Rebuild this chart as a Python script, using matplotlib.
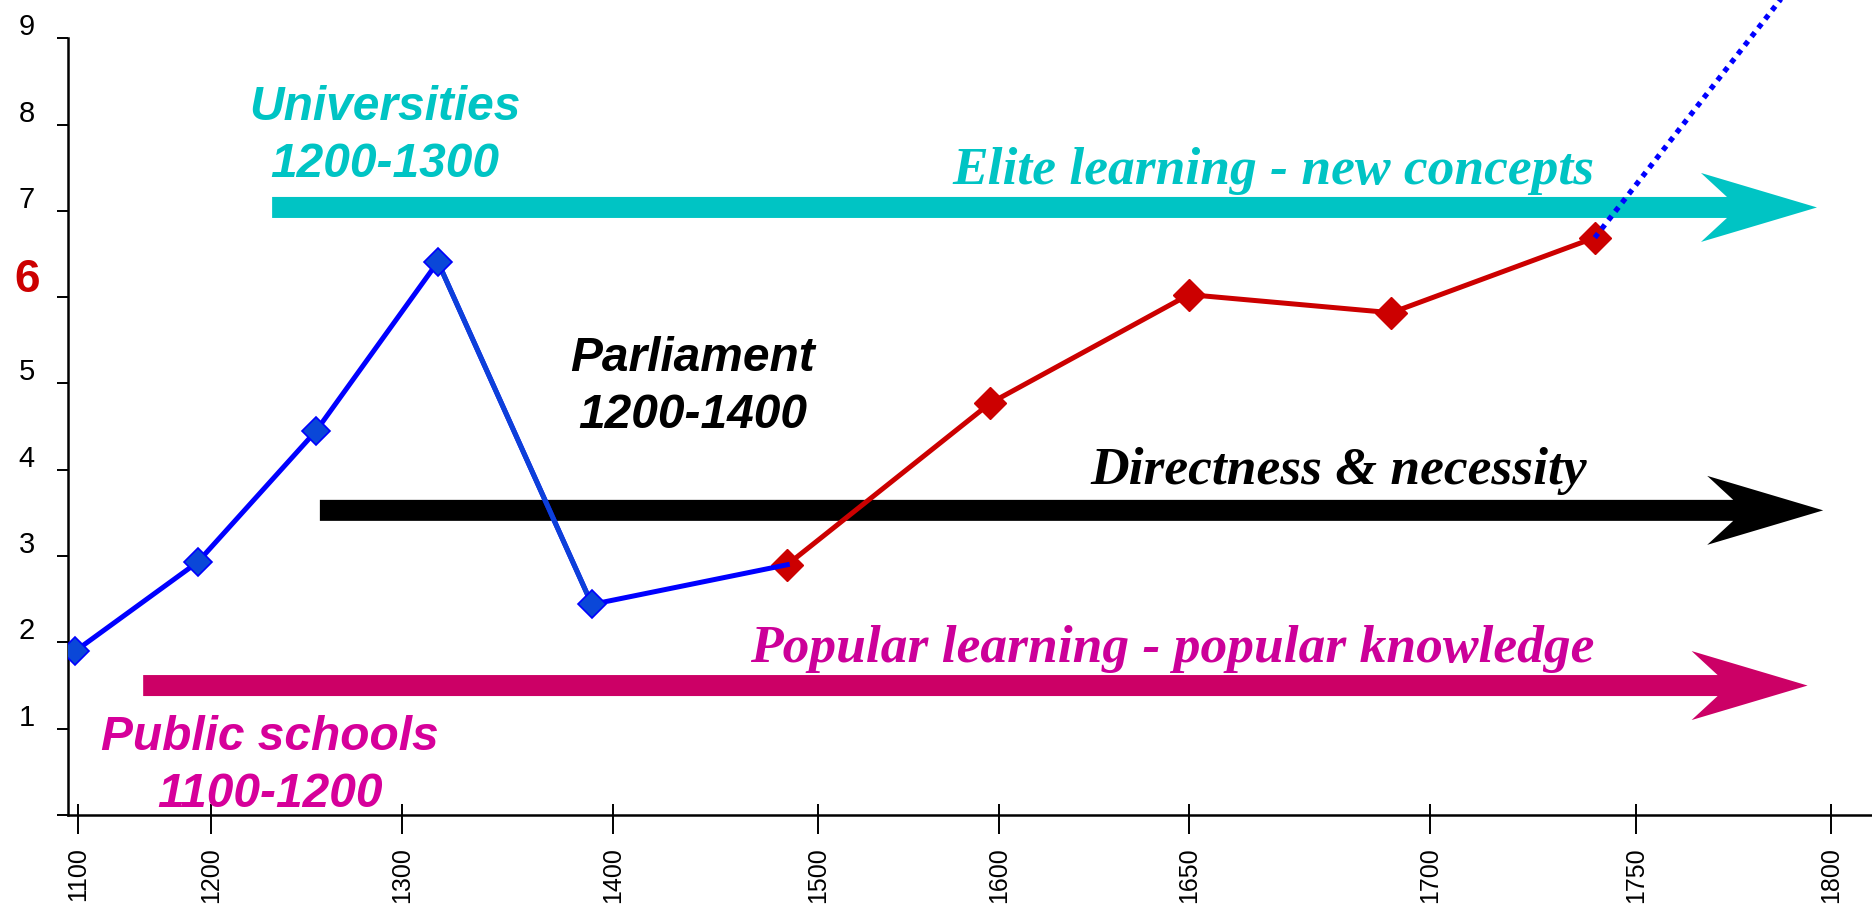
import numpy as np
import matplotlib
matplotlib.use("Agg")
import matplotlib.pyplot as plt
from matplotlib import transforms
from matplotlib.patches import Polygon

# ---------------- data ----------------
tick_years = [1100, 1200, 1300, 1400, 1500, 1600, 1650, 1700, 1750, 1800]
tick_labels = ["1100", "1200", "1300", "1400", "1500", "1600", "1650", "1700", "1750", "1800"]
ytick_values = [0, 1, 2, 3, 4, 5, 6, 7, 8, 9]
ytick_labels = ["", "1", "2", "3", "4", "5", "6", "7", "8", "9"]

blue_years = [1098, 1190, 1255, 1317, 1390, 1485]
blue_values = [1.90, 2.93, 4.45, 6.41, 2.44, 2.90]
red_years = [1485, 1595, 1650, 1692, 1740]
red_values = [2.90, 4.77, 6.03, 5.82, 6.69]
proj_years = [1740, 1800]
proj_values = [6.69, 10.2]

arrow_names = ["Elite", "Directness", "Popular"]
arrow_start = [1232, 1257, 1149]
arrow_end = [1796.4, 1798, 1794]
arrow_level = [7.04, 3.53, 1.50]

# ---------------- layout / style ----------------
W, H, DPI = 1872, 906, 100
# uneven spacing of the category-like year axis (relative positions)
axis_pos = [78, 211, 402, 613, 818, 999, 1189, 1430, 1636, 1831]
ext_years = np.array([900] + tick_years + [2000], float)
ext_pos = np.array([axis_pos[0] - 200 * (axis_pos[1] - axis_pos[0]) / 100.0] + axis_pos +
                   [axis_pos[-1] + 200 * (axis_pos[-1] - axis_pos[-2]) / 50.0], float)


def forward(x):
    return np.interp(np.asarray(x, float), ext_years, ext_pos)


def inverse(p):
    return np.interp(np.asarray(p, float), ext_pos, ext_years)


CYAN = "#00C4C4"
MAGENTA_ARROW = "#CC0066"
MAGENTA_TEXT = "#D6009A"
RED = "#CC0000"
BLUE = "#0000FF"
BLUE2 = "#0D40DA"
MARKER_BLUE = "#0A47D8"
arrow_colors = [CYAN, "#000000", MAGENTA_ARROW]

fig = plt.figure(figsize=(W / DPI, H / DPI), dpi=DPI)
ax_left, ax_bottom = 68, 91
ax = fig.add_axes([ax_left / W, ax_bottom / H, (W - ax_left) / W, (H - ax_bottom) / H])
ax.set_xscale("function", functions=(forward, inverse))
ax.set_xlim(float(inverse(ax_left)), float(inverse(W)))
ax.set_ylim(0, (H - ax_bottom) / 86.3)

for s in ["top", "right"]:
    ax.spines[s].set_visible(False)
ax.spines["left"].set_bounds(0, 9)
ax.spines["left"].set_linewidth(1.8)
ax.spines["bottom"].set_linewidth(1.8)

# x ticks: out part (major) + in part (minor) at the same places
ax.set_xticks(tick_years)
ax.set_xticklabels(tick_labels, rotation=90, fontsize=18, family="Liberation Sans")
ax.set_xticks(tick_years, minor=True)
ax.xaxis.remove_overlapping_locs = False
ax.tick_params(axis="x", which="major", direction="out", length=14, width=1.4, pad=9)
ax.tick_params(axis="x", which="minor", direction="in", length=8, width=1.4)

# y ticks
ax.set_yticks(ytick_values)
ax.set_yticklabels(ytick_labels, fontsize=21, family="Liberation Sans")
ax.tick_params(axis="y", direction="out", length=8, width=1.4, pad=16)
ax.yaxis.set_minor_locator(matplotlib.ticker.NullLocator())
for lab in ax.get_yticklabels():
    if lab.get_text() == "6":
        lab.set_color(RED)
        lab.set_fontsize(33)
        lab.set_fontweight("bold")
        off = transforms.ScaledTranslation(0.05, 0.22, fig.dpi_scale_trans)
    else:
        off = transforms.ScaledTranslation(0, 0.14, fig.dpi_scale_trans)
    lab.set_transform(lab.get_transform() + off)

# ---------------- arrows (behind the lines) ----------------
SHAFT_HALF, HEAD_LEN, HEAD_HALF, NOTCH = 10.5, 116, 34.5, 90
for x0, x1, lvl, col in zip(arrow_start, arrow_end, arrow_level, arrow_colors):
    (sx, sy) = ax.transData.transform((x0, lvl))
    (tx, ty) = ax.transData.transform((x1, lvl))
    verts = [
        (sx, sy - SHAFT_HALF), (tx - NOTCH, ty - SHAFT_HALF), (tx - HEAD_LEN, ty - HEAD_HALF),
        (tx, ty), (tx - HEAD_LEN, ty + HEAD_HALF), (tx - NOTCH, ty + SHAFT_HALF),
        (sx, sy + SHAFT_HALF),
    ]
    ax.add_patch(Polygon(verts, closed=True, facecolor=col, edgecolor="none",
                         transform=transforms.IdentityTransform(), zorder=1))

# ---------------- series ----------------
ax.plot(red_years, red_values, color=RED, lw=3.6, zorder=3,
        marker="D", ms=16.5, mfc=RED, mec=RED, solid_capstyle="butt")
ax.plot(blue_years, blue_values, color=BLUE, lw=3.6, zorder=4)
ax.plot(blue_years[3:5], blue_values[3:5], color=BLUE2, lw=3.6, zorder=4.1)
ax.plot(blue_years[:5], blue_values[:5], linestyle="none", marker="D", ms=14,
        mfc=MARKER_BLUE, mec=BLUE, mew=1.2, zorder=5)
ax.plot(proj_years, proj_values, color=BLUE, lw=3.8, linestyle=(0, (1, 1.1)),
        dash_capstyle="butt", zorder=6)

# ---------------- annotations ----------------
sans = dict(family="Liberation Sans", fontweight="bold", fontstyle="italic",
            fontsize=34.5, ha="center", va="center", linespacing=1.35, zorder=7)
ax.text(1291, 7.87, "Universities\n1200-1300", color=CYAN, **sans)
ax.text(1439, 4.96, "Parliament\n1200-1400", color="#000000", **sans)
ax.text(1231, 0.57, "Public schools\n1100-1200", color=MAGENTA_TEXT, **sans)

serif = dict(family="Liberation Serif", fontweight="bold", fontstyle="italic",
             fontsize=38.5, ha="right", va="baseline", zorder=7)
ax.text(1740, 7.31, "Elite learning - new concepts", color=CYAN, **serif)
ax.text(1738, 3.83, "Directness & necessity", color="#000000", **serif)
ax.text(1740, 1.77, "Popular learning - popular knowledge", color="#CC0099", **serif)

fig.savefig("out.png", dpi=DPI, facecolor="white")
